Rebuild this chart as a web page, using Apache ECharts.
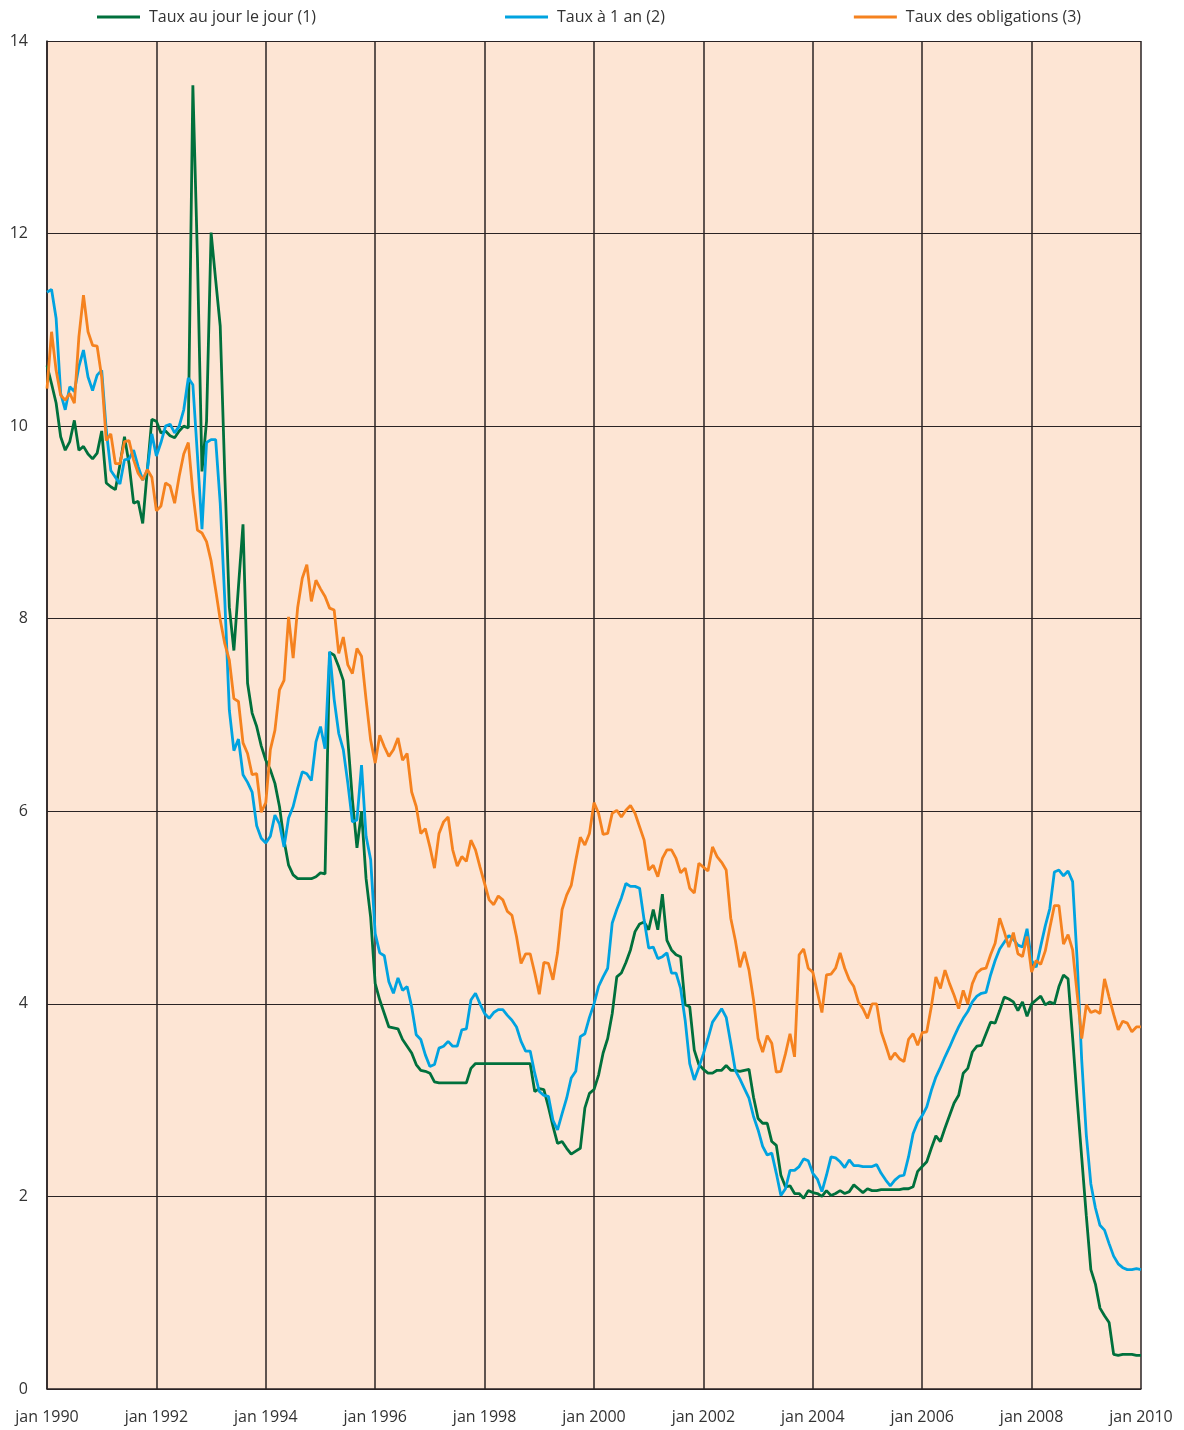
<!DOCTYPE html>
<html>
<head>
<meta charset="utf-8">
<script src="https://cdn.jsdelivr.net/npm/echarts@6/dist/echarts.min.js"></script>
<style>
  html, body { margin: 0; padding: 0; background: #fff; }
  #chart { width: 1184px; height: 1430px; }
</style>
</head>
<body>
<div id="chart"></div>
<script>
// monthly values, jan 1990 .. jan 2010 (241 points)
const seriesNames = ['Taux au jour le jour (1)', 'Taux à 1 an (2)', 'Taux des obligations (3)'];
const startYear = 1990;
const yTicks = [0, 2, 4, 6, 8, 10, 12, 14];

const tauxJour = [
  10.63, 10.44, 10.24, 9.89, 9.75, 9.84, 10.06, 9.75, 9.79, 9.71, 9.66, 9.72,
  9.95, 9.41, 9.37, 9.34, 9.6, 9.89, 9.61, 9.2, 9.22, 8.99, 9.54, 10.07,
  10.05, 9.93, 9.95, 9.9, 9.88, 9.95, 10.0, 9.98, 13.54, 11.76, 9.53, 10.05,
  12.01, 11.52, 11.04, 9.5, 8.12, 7.67, 8.33, 8.98, 7.33, 7.02, 6.88, 6.68,
  6.53, 6.43, 6.29, 6.05, 5.70, 5.44, 5.34, 5.30, 5.30, 5.30, 5.30, 5.32,
  5.36, 5.35, 7.65, 7.62, 7.5, 7.36, 6.74, 6.12, 5.62, 6.0, 5.3, 4.9,
  4.21, 4.04, 3.90, 3.76, 3.75, 3.74, 3.63, 3.56, 3.49, 3.37, 3.31, 3.30,
  3.28, 3.19, 3.18, 3.18, 3.18, 3.18, 3.18, 3.18, 3.18, 3.33, 3.38, 3.38,
  3.38, 3.38, 3.38, 3.38, 3.38, 3.38, 3.38, 3.38, 3.38, 3.38, 3.38, 3.09,
  3.12, 3.11, 2.93, 2.73, 2.55, 2.57, 2.50, 2.44, 2.47, 2.50, 2.92, 3.07,
  3.11, 3.26, 3.49, 3.64, 3.90, 4.28, 4.32, 4.43, 4.56, 4.75, 4.83, 4.85,
  4.77, 4.98, 4.77, 5.14, 4.66, 4.56, 4.51, 4.49, 3.99, 3.97, 3.52, 3.37,
  3.32, 3.28, 3.28, 3.31, 3.31, 3.36, 3.31, 3.31, 3.30, 3.31, 3.32, 3.03,
  2.81, 2.76, 2.76, 2.57, 2.53, 2.22, 2.10, 2.11, 2.03, 2.03, 1.98, 2.06,
  2.04, 2.03, 2.0, 2.06, 2.01, 2.03, 2.06, 2.03, 2.05, 2.12, 2.08, 2.04,
  2.08, 2.06, 2.06, 2.07, 2.07, 2.07, 2.07, 2.07, 2.08, 2.08, 2.1, 2.26,
  2.31, 2.36, 2.50, 2.63, 2.57, 2.71, 2.84, 2.97, 3.05, 3.28, 3.33, 3.50,
  3.56, 3.57, 3.69, 3.81, 3.80, 3.93, 4.07, 4.05, 4.02, 3.93, 4.02, 3.87,
  4.0, 4.04, 4.08, 3.99, 4.02, 4.0, 4.18, 4.30, 4.26, 3.65, 3.0, 2.4,
  1.8, 1.24, 1.09, 0.84, 0.76, 0.69, 0.36, 0.35, 0.36, 0.36, 0.36, 0.35,
  0.35
];

const taux1an = [
  11.39, 11.42, 11.12, 10.34, 10.17, 10.41, 10.36, 10.62, 10.79, 10.51, 10.37, 10.53,
  10.58, 9.96, 9.54, 9.47, 9.40, 9.65, 9.66, 9.75, 9.58, 9.44, 9.54, 9.92,
  9.69, 9.83, 10.0, 10.02, 9.93, 10.0, 10.17, 10.5, 10.43, 9.7, 8.93, 9.83,
  9.86, 9.86, 9.2, 8.2, 7.05, 6.63, 6.75, 6.38, 6.3, 6.2, 5.85, 5.72,
  5.67, 5.74, 5.96, 5.87, 5.63, 5.93, 6.05, 6.24, 6.41, 6.39, 6.32, 6.72,
  6.88, 6.65, 7.66, 7.16, 6.81, 6.64, 6.29, 5.89, 5.91, 6.48, 5.74, 5.5,
  4.73, 4.53, 4.5, 4.23, 4.11, 4.27, 4.14, 4.18, 3.97, 3.68, 3.63, 3.47,
  3.35, 3.37, 3.54, 3.56, 3.61, 3.56, 3.56, 3.73, 3.74, 4.04, 4.11, 4.0,
  3.9, 3.85, 3.91, 3.94, 3.94, 3.88, 3.83, 3.76, 3.61, 3.51, 3.51, 3.28,
  3.09, 3.05, 3.04, 2.79, 2.69, 2.86, 3.02, 3.23, 3.30, 3.66, 3.69, 3.86,
  4.0, 4.18, 4.28, 4.37, 4.84, 4.98, 5.1, 5.25, 5.22, 5.22, 5.2, 4.87,
  4.58, 4.59, 4.47, 4.49, 4.53, 4.32, 4.32, 4.16, 3.83, 3.38, 3.21, 3.34,
  3.48, 3.64, 3.81, 3.88, 3.95, 3.86, 3.59, 3.31, 3.22, 3.12, 3.02, 2.83,
  2.69, 2.52, 2.43, 2.45, 2.24, 2.01, 2.08, 2.27, 2.27, 2.31, 2.39, 2.37,
  2.24, 2.18, 2.05, 2.22, 2.41, 2.40, 2.36, 2.30, 2.38, 2.32, 2.32, 2.31,
  2.31, 2.31, 2.33, 2.24, 2.17, 2.11, 2.17, 2.21, 2.22, 2.41, 2.65, 2.77,
  2.84, 2.93, 3.10, 3.24, 3.34, 3.45, 3.55, 3.66, 3.76, 3.85, 3.92, 4.02,
  4.08, 4.11, 4.12, 4.30, 4.45, 4.57, 4.64, 4.71, 4.67, 4.61, 4.59, 4.78,
  4.45, 4.38, 4.60, 4.81, 4.99, 5.37, 5.39, 5.33, 5.38, 5.27, 4.45, 3.41,
  2.64, 2.13, 1.88, 1.70, 1.65, 1.51, 1.38, 1.30, 1.26, 1.24, 1.24, 1.25,
  1.24
];

const tauxOblig = [
  10.39, 10.98, 10.58, 10.32, 10.27, 10.34, 10.24, 10.93, 11.36, 10.98, 10.84, 10.83,
  10.51, 9.85, 9.92, 9.61, 9.61, 9.84, 9.85, 9.65, 9.51, 9.44, 9.55, 9.47,
  9.12, 9.17, 9.41, 9.38, 9.2, 9.48, 9.71, 9.83, 9.31, 8.92, 8.89, 8.80,
  8.60, 8.3, 7.99, 7.74, 7.57, 7.17, 7.14, 6.71, 6.6, 6.38, 6.39, 5.99,
  6.09, 6.64, 6.84, 7.26, 7.36, 8.02, 7.59, 8.12, 8.42, 8.56, 8.18, 8.40,
  8.31, 8.23, 8.11, 8.09, 7.64, 7.81, 7.52, 7.43, 7.69, 7.61, 7.16, 6.74,
  6.5, 6.79, 6.67, 6.57, 6.64, 6.76, 6.53, 6.6, 6.2, 6.05, 5.77, 5.82,
  5.63, 5.41, 5.77, 5.89, 5.94, 5.6, 5.43, 5.53, 5.48, 5.70, 5.6, 5.42,
  5.25, 5.08, 5.03, 5.12, 5.08, 4.96, 4.92, 4.70, 4.42, 4.52, 4.52, 4.32,
  4.10, 4.43, 4.42, 4.25, 4.53, 4.98, 5.13, 5.23, 5.49, 5.73, 5.65, 5.77,
  6.09, 5.98, 5.76, 5.77, 5.98, 6.01, 5.94, 6.01, 6.06, 5.98, 5.84, 5.70,
  5.39, 5.44, 5.32, 5.51, 5.60, 5.60, 5.51, 5.36, 5.41, 5.20, 5.15, 5.46,
  5.42, 5.38, 5.63, 5.53, 5.47, 5.39, 4.89, 4.66, 4.38, 4.54, 4.35, 4.04,
  3.64, 3.50, 3.67, 3.59, 3.29, 3.30, 3.48, 3.69, 3.45, 4.51, 4.57, 4.37,
  4.33, 4.12, 3.91, 4.30, 4.31, 4.37, 4.53, 4.37, 4.25, 4.18, 4.02, 3.95,
  3.85, 4.0, 4.0, 3.71, 3.57, 3.42, 3.49, 3.43, 3.40, 3.63, 3.69, 3.57,
  3.70, 3.71, 3.97, 4.28, 4.16, 4.35, 4.21, 4.09, 3.95, 4.14, 4.0, 4.21,
  4.32, 4.36, 4.37, 4.51, 4.63, 4.89, 4.75, 4.59, 4.74, 4.52, 4.49, 4.70,
  4.33, 4.45, 4.41, 4.55, 4.79, 5.02, 5.02, 4.62, 4.72, 4.56, 4.10, 3.64,
  3.99, 3.91, 3.93, 3.90, 4.26, 4.07, 3.89, 3.73, 3.82, 3.80, 3.71, 3.76,
  3.76
];

const moisNoms = ['jan', 'fév', 'mar', 'avr', 'mai', 'jun', 'jul', 'aoû', 'sep', 'oct', 'nov', 'déc'];
const months = [];
for (let i = 0; i < tauxJour.length; i++) {
  months.push(moisNoms[i % 12] + ' ' + (startYear + Math.floor(i / 12)));
}

const chart = echarts.init(document.getElementById('chart'));
const gridColor = '#2a2324';
const font = '"Open Sans", "Noto Sans", sans-serif';

const option = {
  animation: false,
  textStyle: { fontFamily: font },
  color: ['#00703c', '#00a3e0', '#f5821f'],
  legend: {
    top: 9,
    left: 97,
    padding: 0,
    itemGap: 189,
    itemWidth: 43,
    itemHeight: 3,
    icon: 'rect',
    textStyle: { fontSize: 16, color: '#333', fontFamily: font, padding: [0, 0, 0, 4] },
    data: seriesNames
  },
  grid: {
    left: 47,
    right: 43,
    top: 41,
    bottom: 41,
    show: true,
    backgroundColor: '#fde5d4',
    borderWidth: 0
  },
  xAxis: {
    type: 'category',
    data: months,
    boundaryGap: false,
    axisLine: { show: true, lineStyle: { color: gridColor, width: 1.5 } },
    axisTick: { show: false },
    axisLabel: {
      interval: (i) => i % 24 === 0,
      fontSize: 16,
      color: '#333',
      margin: 20,
      showMaxLabel: true
    },
    splitLine: {
      show: true,
      interval: (i) => i % 24 === 0,
      lineStyle: { color: gridColor, width: 1.5 }
    }
  },
  yAxis: {
    type: 'value',
    min: yTicks[0],
    max: yTicks[yTicks.length - 1],
    interval: 2,
    axisLine: { show: true, lineStyle: { color: gridColor, width: 1.5 } },
    axisTick: { show: false },
    axisLabel: { fontSize: 16, color: '#333', margin: 19 },
    splitLine: { show: true, lineStyle: { color: gridColor, width: 1.2 } }
  },
  series: [
    { name: seriesNames[0], type: 'line', data: tauxJour, showSymbol: false, lineStyle: { width: 2.8 } },
    { name: seriesNames[1], type: 'line', data: taux1an, showSymbol: false, lineStyle: { width: 2.8 } },
    { name: seriesNames[2], type: 'line', data: tauxOblig, showSymbol: false, lineStyle: { width: 2.8 } }
  ]
};
chart.setOption(option);
</script>
</body>
</html>
